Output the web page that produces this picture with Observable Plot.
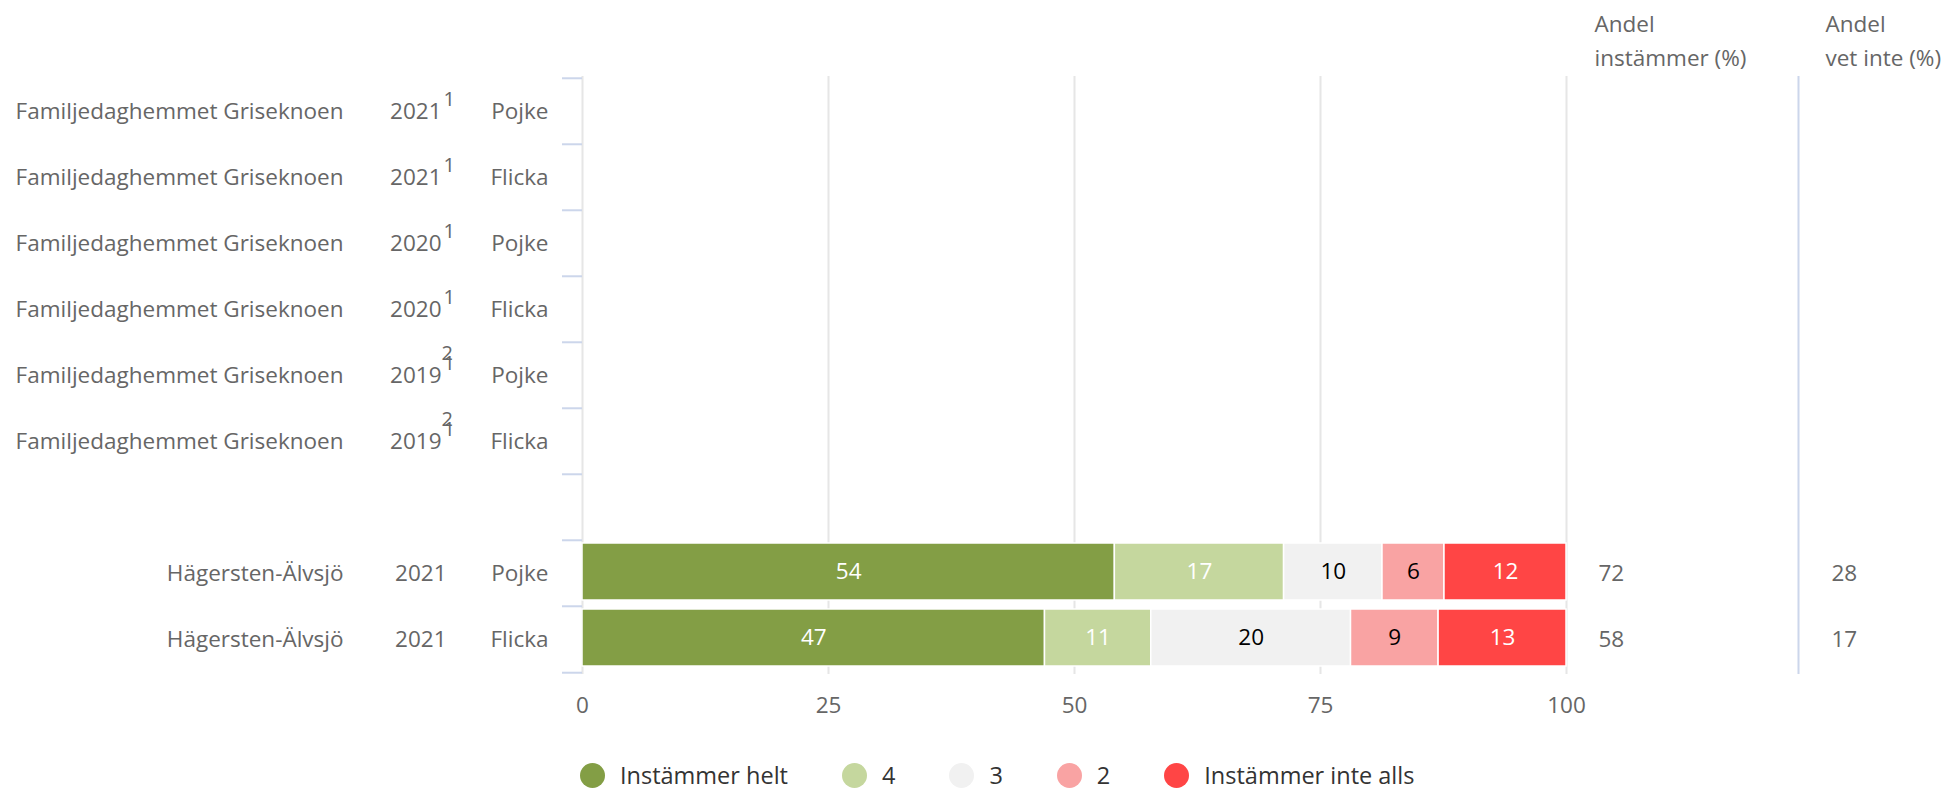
<!DOCTYPE html>
<html>
<head>
<meta charset="utf-8">
<script src="https://cdn.jsdelivr.net/npm/d3@7"></script>
<script src="https://cdn.jsdelivr.net/npm/@observablehq/plot@0.6"></script>
<style>
  body { margin: 0; background: #fff; font-family: "Open Sans", sans-serif; }
  #chart { position: relative; width: 1953px; height: 792px; overflow: hidden; }
  #chart svg { display: block; }
  .legend { position: absolute; left: 580px; top: 759px; height: 32px; display: flex; align-items: center; font-size: 23.5px; color: #333; line-height: 32px; }
  .item { display: flex; align-items: center; margin-right: 54px; }
  .dot { width: 25px; height: 25px; border-radius: 50%; margin-right: 15px; }
</style>
</head>
<body>
<div id="chart"></div>
<script>
// ---- data ----
const rowNames = [
  "Familjedaghemmet Griseknoen", "Familjedaghemmet Griseknoen",
  "Familjedaghemmet Griseknoen", "Familjedaghemmet Griseknoen",
  "Familjedaghemmet Griseknoen", "Familjedaghemmet Griseknoen",
  "", "Hägersten-Älvsjö", "Hägersten-Älvsjö"
];
const rowYears = ["2021", "2021", "2020", "2020", "2019", "2019", "", "2021", "2021"];
const rowSup1 = ["1", "1", "1", "1", "1", "1", "", "", ""];
const rowSup2 = ["", "", "", "", "2", "2", "", "", ""];
const rowGenders = ["Pojke", "Flicka", "Pojke", "Flicka", "Pojke", "Flicka", "", "Pojke", "Flicka"];

const categories = ["Instämmer helt", "4", "3", "2", "Instämmer inte alls"];
const colors = ["#839e45", "#c5d79e", "#f1f1f1", "#f9a3a3", "#ff4545"];
const labelColors = ["white", "white", "black", "black", "white"];

const barRows = [7, 8];
const pojkeValues = [54.1, 17.2, 10.0, 6.3, 12.4];
const flickaValues = [47.0, 10.8, 20.3, 8.9, 13.0];
const andelInstammer = [72, 58];
const andelVetInte = [28, 17];

const xTicks = [0, 25, 50, 75, 100];
const header1 = "Andel\ninstämmer (%)";
const header2 = "Andel\nvet inte (%)";

// ---- tables ----
const keys = rowNames.map((_, i) => "r" + i);
const rows = keys.map((key, i) => ({
  key, name: rowNames[i], year: rowYears[i], sup1: rowSup1[i], sup2: rowSup2[i], gender: rowGenders[i]
}));
const seriesValues = [pojkeValues, flickaValues];
const bars = [];
barRows.forEach((r, j) => {
  categories.forEach((c, k) => {
    bars.push({key: keys[r], category: c, value: seriesValues[j][k], labelColor: labelColors[k]});
  });
});
const sideRows = barRows.map((r, j) => ({key: keys[r], inst: andelInstammer[j], vet: andelVetInte[j]}));

// ---- layout ----
const W = 1953, H = 740, mT = 76, mB = 66, mL = 582, mR = 387;
const step = (H - mT - mB) / keys.length;
const font = '"Open Sans", sans-serif';
const fs = 22.5;
const grey = "#666";

const chart = Plot.plot({
  width: W, height: H,
  marginLeft: mL, marginRight: mR, marginTop: mT, marginBottom: mB,
  style: {fontFamily: font, fontSize: fs + "px", color: grey, background: "white"},
  x: {domain: [0, 100], axis: null, label: null},
  y: {domain: keys, padding: 0, axis: null, label: null},
  color: {domain: categories, range: colors},
  marks: [
    Plot.gridX(xTicks, {stroke: "#e6e6e6", strokeOpacity: 1, strokeWidth: 2}),
    Plot.ruleX([100], {dx: 232, stroke: "#ccd6eb", strokeWidth: 2}),
    Plot.axisX(xTicks, {tickSize: 0, tickPadding: 23, fontSize: fs, fill: grey, label: null}),
    Plot.axisY(keys, {tickSize: 20, tickFormat: () => "", dy: -step / 2, stroke: "#ccd6eb", strokeWidth: 2, label: null}),
    Plot.axisY([keys[keys.length - 1]], {tickSize: 20, tickFormat: () => "", dy: step / 2, stroke: "#ccd6eb", strokeWidth: 2, label: null}),
    // bars
    Plot.barX(bars, Plot.stackX({x: "value", y: "key", fill: "category", stroke: "white", strokeWidth: 1.5, insetTop: 3, insetBottom: 6})),
    Plot.text(bars, Plot.stackX({x: "value", y: "key", text: d => d.labelColor === "white" ? String(Math.round(d.value)) : "", fill: "white", fontSize: fs, dy: -1.5})),
    Plot.text(bars, Plot.stackX({x: "value", y: "key", text: d => d.labelColor === "black" ? String(Math.round(d.value)) : "", fill: "black", fontSize: fs, dy: -1.5})),
    // row labels
    Plot.text(rows, {y: "key", text: "name", frameAnchor: "left", textAnchor: "end", dx: -239, fill: grey, fontSize: fs}),
    Plot.text(rows.filter(d => !d.sup1), {y: "key", text: "year", frameAnchor: "left", textAnchor: "end", dx: -136, fill: grey, fontSize: fs}),
    Plot.text(rows.filter(d => d.sup1), {y: "key", text: "year", frameAnchor: "left", textAnchor: "end", dx: -141, fill: grey, fontSize: fs}),
    Plot.text(rows, {y: "key", text: "sup1", frameAnchor: "left", textAnchor: "start", dx: -139, dy: -12, fill: grey, fontSize: 20}),
    Plot.text(rows, {y: "key", text: "sup2", frameAnchor: "left", textAnchor: "start", dx: -141, dy: -22, fill: grey, fontSize: 20}),
    Plot.text(rows, {y: "key", text: "gender", frameAnchor: "left", textAnchor: "end", dx: -34, fill: grey, fontSize: fs}),
    // side columns
    Plot.text([header1], {text: d => d, frameAnchor: "top-right", textAnchor: "start", lineAnchor: "bottom", lineHeight: 1.47, dx: 28, dy: -11, fill: grey, fontSize: fs}),
    Plot.text([header2], {text: d => d, frameAnchor: "top-right", textAnchor: "start", lineAnchor: "bottom", lineHeight: 1.47, dx: 259, dy: -11, fill: grey, fontSize: fs}),
    Plot.text(sideRows, {y: "key", text: "inst", frameAnchor: "right", textAnchor: "start", dx: 32, fill: grey, fontSize: fs}),
    Plot.text(sideRows, {y: "key", text: "vet", frameAnchor: "right", textAnchor: "start", dx: 265, fill: grey, fontSize: fs})
  ]
});

const root = document.getElementById("chart");
root.appendChild(chart);

const legend = document.createElement("div");
legend.className = "legend";
categories.forEach((c, i) => {
  const item = document.createElement("div");
  item.className = "item";
  const dot = document.createElement("span");
  dot.className = "dot";
  dot.style.background = colors[i];
  const label = document.createElement("span");
  label.textContent = c;
  item.appendChild(dot);
  item.appendChild(label);
  legend.appendChild(item);
});
root.appendChild(legend);
</script>
</body>
</html>
